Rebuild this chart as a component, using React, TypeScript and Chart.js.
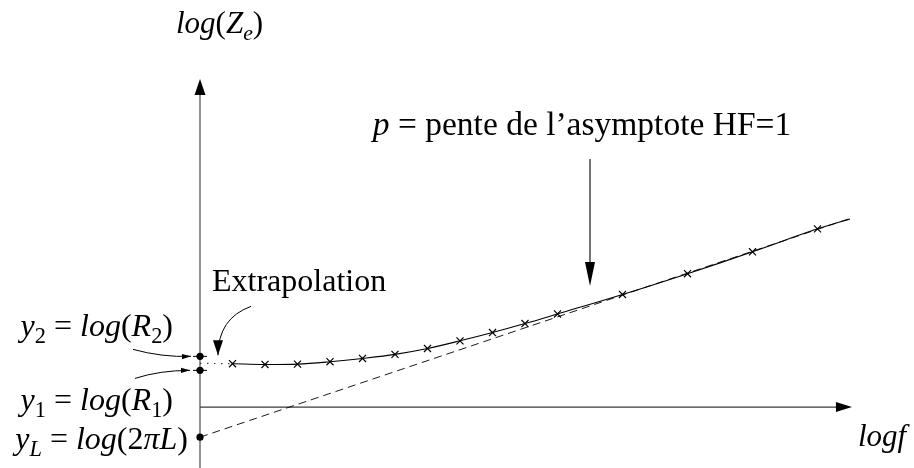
import { useEffect, useRef } from "react";
import { Chart, registerables } from "chart.js";

Chart.register(...registerables);

// Measured points: log f (arbitrary units) and log |Ze|
const FREQ_LOG = [1, 2, 3, 4, 5, 6, 7, 8, 9, 10, 11, 13, 15, 17, 19];
const Z_LOG = [3.97, 3.9, 3.93, 4.15, 4.45, 4.82, 5.36, 6.06, 6.82, 7.64, 8.52, 10.3, 12.2, 14.2, 16.3];

// The fitted curve continues a little beyond the last measurement
const CURVE_END_X = 20;
const CURVE_END_Y = 17.2;

// Low-frequency extrapolation and the characteristic levels on the log Z axis
const Y_EXTRAP = 4.0;
const Y2 = 4.64;
const Y1 = 3.36;
const YL = -2.75;

// High-frequency asymptote: y = yL + p * log f, with p = 1
const HF_SLOPE = 1;
const ASYMP_END_X = 20;
const POINTER_X = 12;

// Axis extents
const X_MIN = 0;
const X_MAX = 20;
const Y_MIN = -5;
const Y_MAX = 30;
const X_ARROW_TIP = 20.06;

type Run = { t: string; i?: boolean; sub?: boolean };

const LABEL_Y_AXIS: Run[] = [{ t: "log", i: true }, { t: "(" }, { t: "Z", i: true }, { t: "e", i: true, sub: true }, { t: ")" }];
const LABEL_X_AXIS: Run[] = [{ t: "logf", i: true }];
const LABEL_Y2: Run[] = [{ t: "y", i: true }, { t: "2", sub: true }, { t: " = " }, { t: "log", i: true }, { t: "(" }, { t: "R", i: true }, { t: "2", sub: true }, { t: ")" }];
const LABEL_Y1: Run[] = [{ t: "y", i: true }, { t: "1", sub: true }, { t: " = " }, { t: "log", i: true }, { t: "(" }, { t: "R", i: true }, { t: "1", sub: true }, { t: ")" }];
const LABEL_YL: Run[] = [{ t: "y", i: true }, { t: "L", i: true, sub: true }, { t: " = " }, { t: "log", i: true }, { t: "(2" }, { t: "π", i: true }, { t: "L", i: true }, { t: ")" }];
const LABEL_SLOPE: Run[] = [{ t: "p", i: true }, { t: " = pente de l’asymptote HF=1" }];
const LABEL_EXTRAP: Run[] = [{ t: "Extrapolation" }];

const FAMILY = '"Liberation Serif", "DejaVu Serif", serif';

function runFont(r: Run, size: number) {
  const s = r.sub ? size * 0.7 : size;
  return `${r.i ? "italic " : ""}${s}px ${FAMILY}`;
}

function drawRich(ctx: CanvasRenderingContext2D, runs: Run[], x: number, y: number, size: number, align: "left" | "right" | "center") {
  let total = 0;
  for (const r of runs) {
    ctx.font = runFont(r, size);
    total += ctx.measureText(r.t).width;
  }
  let cx = align === "left" ? x : align === "right" ? x - total : x - total / 2;
  ctx.fillStyle = "#000";
  ctx.textBaseline = "alphabetic";
  ctx.textAlign = "left";
  for (const r of runs) {
    ctx.font = runFont(r, size);
    ctx.fillText(r.t, cx, y + (r.sub ? size * 0.22 : 0));
    cx += ctx.measureText(r.t).width;
  }
}

function arrowHead(ctx: CanvasRenderingContext2D, tx: number, ty: number, angle: number, len: number, half: number) {
  const bx = tx - Math.cos(angle) * len;
  const by = ty - Math.sin(angle) * len;
  const nx = -Math.sin(angle) * half;
  const ny = Math.cos(angle) * half;
  ctx.beginPath();
  ctx.moveTo(tx, ty);
  ctx.lineTo(bx + nx, by + ny);
  ctx.lineTo(bx - nx, by - ny);
  ctx.closePath();
  ctx.fill();
}

function curvedArrow(
  ctx: CanvasRenderingContext2D,
  sx: number, sy: number, cx: number, cy: number, tx: number, ty: number,
  len: number, half: number
) {
  ctx.beginPath();
  ctx.moveTo(sx, sy);
  ctx.quadraticCurveTo(cx, cy, tx, ty);
  ctx.stroke();
  arrowHead(ctx, tx, ty, Math.atan2(ty - cy, tx - cx), len, half);
}

const schemaPlugin = {
  id: "schema",
  beforeDatasetsDraw(chart: any) {
    const { ctx } = chart;
    const xs = chart.scales.x;
    const ys = chart.scales.y;
    const x0 = xs.getPixelForValue(0);
    const y0 = ys.getPixelForValue(0);
    const yTop = ys.getPixelForValue(Y_MAX);
    const xTip = xs.getPixelForValue(X_ARROW_TIP);
    ctx.save();
    ctx.strokeStyle = "#3a3a3a";
    ctx.fillStyle = "#000";
    ctx.lineWidth = 1.1;
    // vertical axis
    ctx.beginPath();
    ctx.moveTo(x0, chart.height);
    ctx.lineTo(x0, yTop + 14);
    ctx.stroke();
    arrowHead(ctx, x0, yTop, -Math.PI / 2, 16, 5.5);
    // horizontal axis
    ctx.beginPath();
    ctx.moveTo(x0, y0);
    ctx.lineTo(xTip - 13, y0);
    ctx.stroke();
    arrowHead(ctx, xTip, y0, 0, 16, 5);
    // short level marks at y1 and y2
    ctx.strokeStyle = "#000";
    ctx.lineWidth = 1;
    for (const v of [Y2, Y1]) {
      const py = ys.getPixelForValue(v);
      ctx.beginPath();
      ctx.moveTo(x0 - 7, py);
      ctx.lineTo(x0 + 7, py);
      ctx.stroke();
    }
    ctx.restore();
  },
  afterDraw(chart: any) {
    const { ctx } = chart;
    const xs = chart.scales.x;
    const ys = chart.scales.y;
    const x0 = xs.getPixelForValue(0);
    const y0 = ys.getPixelForValue(0);
    const yTop = ys.getPixelForValue(Y_MAX);
    const xTip = xs.getPixelForValue(X_ARROW_TIP);
    const py2 = ys.getPixelForValue(Y2);
    const py1 = ys.getPixelForValue(Y1);
    const pyL = ys.getPixelForValue(YL);
    const pyE = ys.getPixelForValue(Y_EXTRAP);
    ctx.save();

    drawRich(ctx, LABEL_Y_AXIS, x0 - 24, yTop - 46, 31, "left");
    drawRich(ctx, LABEL_X_AXIS, xTip + 6, y0 + 39, 31, "left");
    drawRich(ctx, LABEL_Y2, x0 - 27, py2 - 20, 32, "right");
    drawRich(ctx, LABEL_Y1, x0 - 27, py1 + 40, 32, "right");
    drawRich(ctx, LABEL_YL, x0 - 12, pyL + 12, 32, "right");
    drawRich(ctx, LABEL_EXTRAP, x0 + 12, pyE - 72, 32, "left");

    // slope label and its pointer towards the asymptote
    const px = xs.getPixelForValue(POINTER_X);
    const pyAsym = ys.getPixelForValue(YL + HF_SLOPE * POINTER_X);
    const labelBase = pyAsym - 171;
    drawRich(ctx, LABEL_SLOPE, px - 8, labelBase, 33.5, "center");
    ctx.strokeStyle = "#000";
    ctx.fillStyle = "#000";
    ctx.lineWidth = 1.1;
    ctx.beginPath();
    ctx.moveTo(px, labelBase + 24);
    ctx.lineTo(px, pyAsym - 30);
    ctx.stroke();
    arrowHead(ctx, px, pyAsym - 20, Math.PI / 2, 24, 5);

    // curved pointers
    ctx.lineWidth = 1;
    curvedArrow(ctx, x0 - 67, py2 - 7, x0 - 38, py2 + 1, x0 - 9, py2, 9, 2.6);
    curvedArrow(ctx, x0 - 65, py1 + 8, x0 - 40, py1, x0 - 10, py1, 9, 2.6);
    curvedArrow(ctx, x0 + 51, pyE - 57, x0 + 18, pyE - 45, x0 + 18, pyE - 8, 15, 5);

    ctx.restore();
  },
};

export default function App() {
  const ref = useRef<HTMLCanvasElement | null>(null);

  useEffect(() => {
    if (!ref.current) return;
    const measured = FREQ_LOG.map((x, i) => ({ x, y: Z_LOG[i] }));
    const curve = [...measured, { x: CURVE_END_X, y: CURVE_END_Y }];
    const asymptote = [
      { x: 0, y: YL },
      { x: ASYMP_END_X, y: YL + HF_SLOPE * ASYMP_END_X },
    ];
    const extrap = [
      { x: 0, y: Y_EXTRAP },
      { x: FREQ_LOG[0], y: Z_LOG[0] },
    ];
    const levels = [
      { x: 0, y: Y2 },
      { x: 0, y: Y1 },
      { x: 0, y: YL },
    ];

    const chart = new Chart(ref.current, {
      type: "scatter",
      data: {
        datasets: [
          {
            data: levels,
            pointRadius: 3.6,
            pointBackgroundColor: "#000",
            pointBorderColor: "#000",
            pointBorderWidth: 0,
            showLine: false,
            clip: false,
          },
          {
            data: measured,
            pointStyle: "crossRot",
            pointRadius: 5,
            pointBorderColor: "#000",
            pointBorderWidth: 1.2,
            showLine: false,
            clip: false,
          },
          {
            data: curve,
            showLine: true,
            pointRadius: 0,
            borderColor: "#000",
            borderWidth: 1.1,
            tension: 0.35,
            clip: false,
          },
          {
            data: extrap,
            showLine: true,
            pointRadius: 0,
            borderColor: "#444",
            borderWidth: 1.2,
            borderDash: [1.5, 5.5],
            clip: false,
          },
          {
            data: asymptote,
            showLine: true,
            pointRadius: 0,
            borderColor: "#000",
            borderWidth: 0.9,
            borderDash: [8, 5],
            clip: false,
          },
        ],
      } as any,
      options: {
        animation: false,
        responsive: false,
        events: [],
        layout: { padding: { left: 200, right: 64, top: 79, bottom: 4 } },
        scales: {
          x: { type: "linear", min: X_MIN, max: X_MAX, display: false },
          y: { type: "linear", min: Y_MIN, max: Y_MAX, display: false },
        },
        plugins: { legend: { display: false }, tooltip: { enabled: false } },
      },
      plugins: [schemaPlugin],
    });
    return () => chart.destroy();
  }, []);

  return (
    <div style={{ position: "fixed", left: 0, top: 0, width: 914, height: 468, background: "#fff" }}>
      <canvas ref={ref} width={914} height={468} style={{ display: "block" }} />
    </div>
  );
}
